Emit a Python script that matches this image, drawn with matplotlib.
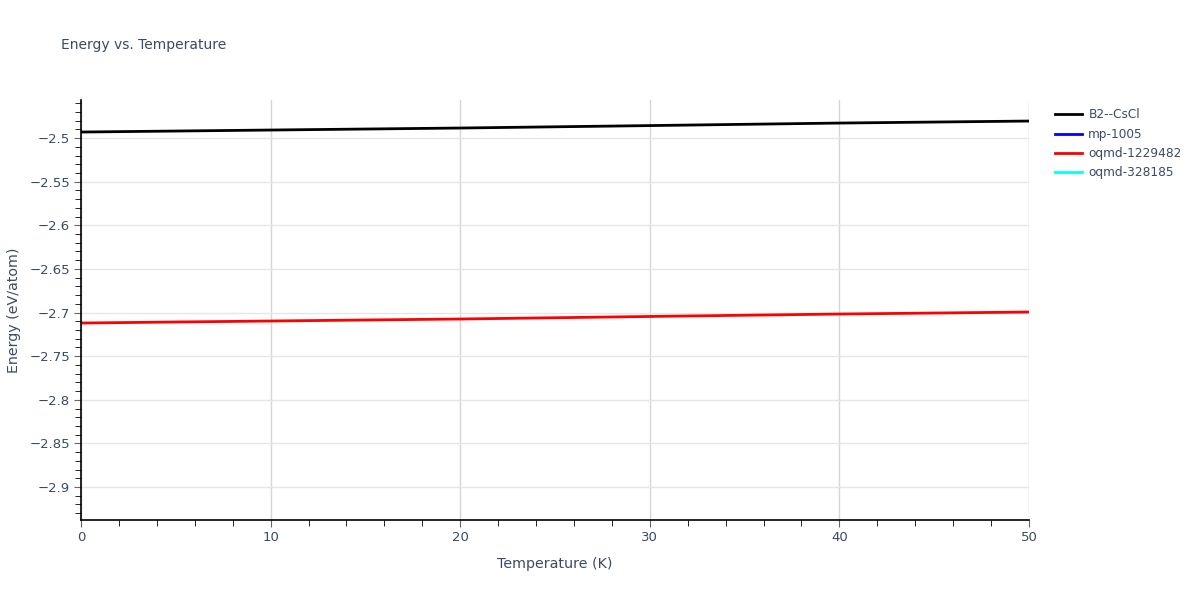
import numpy as np
import matplotlib
matplotlib.use("Agg")
from matplotlib import pyplot as plt
from matplotlib.ticker import MultipleLocator

# data
temps = [0, 10, 20, 30, 40, 50]
b2_cscl = [-2.4931, -2.4908, -2.4885, -2.4857, -2.4828, -2.4805]
mp_1005 = []
oqmd_1229482 = [-2.7120, -2.7097, -2.7074, -2.7045, -2.7017, -2.6994]
oqmd_328185 = []

txt = '#3a4a66'
plt.rcParams['font.family'] = ['DejaVu Sans']

fig = plt.figure(figsize=(12, 6), dpi=100)
ax = fig.add_axes([0.0675, 0.1333, 0.79, 0.7])

ax.plot(temps, b2_cscl, color='black', lw=2, label='B2--CsCl')
ax.plot(temps[:len(mp_1005)], mp_1005, color='blue', lw=2, label='mp-1005')
ax.plot(temps, oqmd_1229482, color='red', lw=2, label='oqmd-1229482')
ax.plot(temps[:len(oqmd_328185)], oqmd_328185, color='cyan', lw=2, label='oqmd-328185')

ax.set_xlim(0, 50)
ax.set_ylim(-2.9378, -2.4564)
ax.xaxis.set_major_locator(MultipleLocator(10))
ax.xaxis.set_minor_locator(MultipleLocator(2))
ax.yaxis.set_major_locator(MultipleLocator(0.05))
ax.yaxis.set_minor_locator(MultipleLocator(0.01))

ax.grid(True, which='major', axis='y', color='#e6e6e6', lw=1)
ax.grid(True, which='major', axis='x', color='#d6d6d6', lw=1)
ax.set_axisbelow(True)

for s in ['top', 'right']:
    ax.spines[s].set_visible(False)
for s in ['left', 'bottom']:
    ax.spines[s].set_color('black')
    ax.spines[s].set_linewidth(1.2)

ax.tick_params(which='major', direction='out', length=5, color='#666666',
               labelsize=9.5, labelcolor=txt, pad=3)
ax.tick_params(which='minor', direction='out', length=4, color='black')

ax.yaxis.set_major_formatter(plt.FuncFormatter(
    lambda v, p: ('%g' % round(v, 2)).replace('-', '\u2212')))

ax.set_xlabel('Temperature (K)', fontsize=10.3, color=txt, labelpad=9)
ax.set_ylabel('Energy (eV/atom)', fontsize=10.3, color=txt, labelpad=6)
fig.text(0.051, 0.925, 'Energy vs. Temperature', fontsize=10, color=txt,
         va='center', ha='left')

leg = ax.legend(loc='upper left', bbox_to_anchor=(1.018, 1.0), frameon=False,
                fontsize=8.7, handlelength=2.3, labelspacing=0.52,
                handletextpad=0.5, borderaxespad=0.3)
for t in leg.get_texts():
    t.set_color(txt)

fig.savefig('out.png', dpi=100)
